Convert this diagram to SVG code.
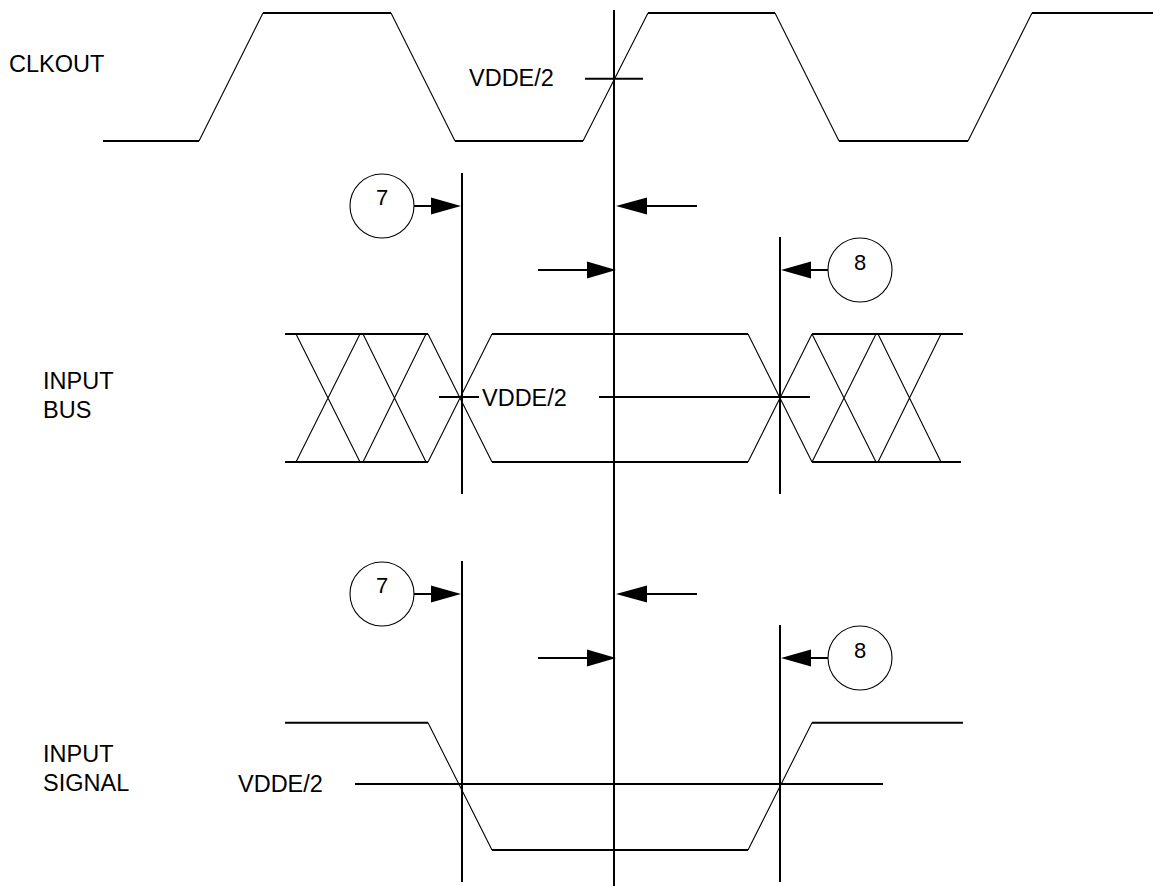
<svg xmlns="http://www.w3.org/2000/svg" width="1153" height="886" viewBox="0 0 1153 886">
<style>
.bg{fill:#fff}
.thick{stroke:#000;stroke-width:2;fill:none}
.thin{stroke:#000;stroke-width:1.1;fill:none}
.head{fill:#000;stroke:none}
.circ{fill:#fff;stroke:#000;stroke-width:1.1}
text{font-family:"Liberation Sans",Arial,sans-serif;font-size:23.5px;fill:#000}
.num{font-size:22px;text-anchor:middle}
</style>
<rect class="bg" width="1153" height="886"/>

<g id="clkout">
<text x="9" y="72">CLKOUT</text>
<path class="thick" d="M103 141H199M263 13H391M455 141H583M648 13H775M839 141H968M1032 13H1153"/>
<path class="thin" d="M199 141L263 13M391 13L455 141M583 141L648 13M775 13L839 141M968 141L1032 13"/>
<line class="thick" x1="585" y1="78.7" x2="643" y2="78.7"/>
<text x="469" y="86">VDDE/2</text>
</g>

<g id="input-bus">
<text x="43" y="388.7">INPUT</text>
<text x="43" y="417.7">BUS</text>
<path class="thick" d="M285 334H428M285 462H428M492 334H748M492 462H748M812 334H963M812 462H961"/>
<path class="thin" d="M296 334L360 462M360 334L296 462M363 334L426 462M426 334L363 462M428 334L492 462M428 462L492 334M748 334L812 462M748 462L812 334M812 334L876 462M876 334L812 462M878 334L941 462M941 334L878 462"/>
<line class="thick" x1="439" y1="397" x2="479" y2="397"/>
<line class="thick" x1="599" y1="397" x2="810" y2="397"/>
<text x="482" y="405.5">VDDE/2</text>
</g>

<g id="input-signal">
<text x="43" y="762">INPUT</text>
<text x="43" y="791">SIGNAL</text>
<path class="thick" d="M285 722.7H428M492 850H748M812 722.7H963"/>
<path class="thin" d="M428 722.7L492 850M748 850L812 722.7"/>
<line class="thick" x1="355" y1="784" x2="883" y2="784"/>
<text x="238" y="792">VDDE/2</text>
</g>

<g id="marker-7-bus">
<circle class="circ" cx="382" cy="206" r="32"/>
<text class="num" x="382" y="205">7</text>
</g>
<g id="marker-8-bus">
<circle class="circ" cx="860" cy="270" r="32"/>
<text class="num" x="860" y="270">8</text>
</g>
<g id="marker-7-signal">
<circle class="circ" cx="382" cy="594" r="32"/>
<text class="num" x="382" y="593">7</text>
</g>
<g id="marker-8-signal">
<circle class="circ" cx="860" cy="658" r="32"/>
<text class="num" x="860" y="657.5">8</text>
</g>

<g id="connectors">
<line class="thick" x1="614" y1="10" x2="614" y2="886"/>
<line class="thick" x1="462" y1="173" x2="462" y2="494"/>
<line class="thick" x1="780" y1="237" x2="780" y2="494"/>
<line class="thick" x1="462" y1="561" x2="462" y2="882"/>
<line class="thick" x1="780" y1="625" x2="780" y2="882"/>

<path class="thick" d="M414 206H432M647 206H697M538 270H587M811 270H828"/>
<path class="head" d="M431 197.5L461 206L431 214.5ZM647 197.5L616 206L647 214.5ZM587 261.5L616 270L587 278.5ZM811 261.5L781 270L811 278.5Z"/>

<path class="thick" d="M414 594H432M647 594H697M538 658H587M811 658H828"/>
<path class="head" d="M431 585.5L461 594L431 602.5ZM647 585.5L616 594L647 602.5ZM587 649.5L616 658L587 666.5ZM811 649.5L781 658L811 666.5Z"/>
</g>
</svg>
